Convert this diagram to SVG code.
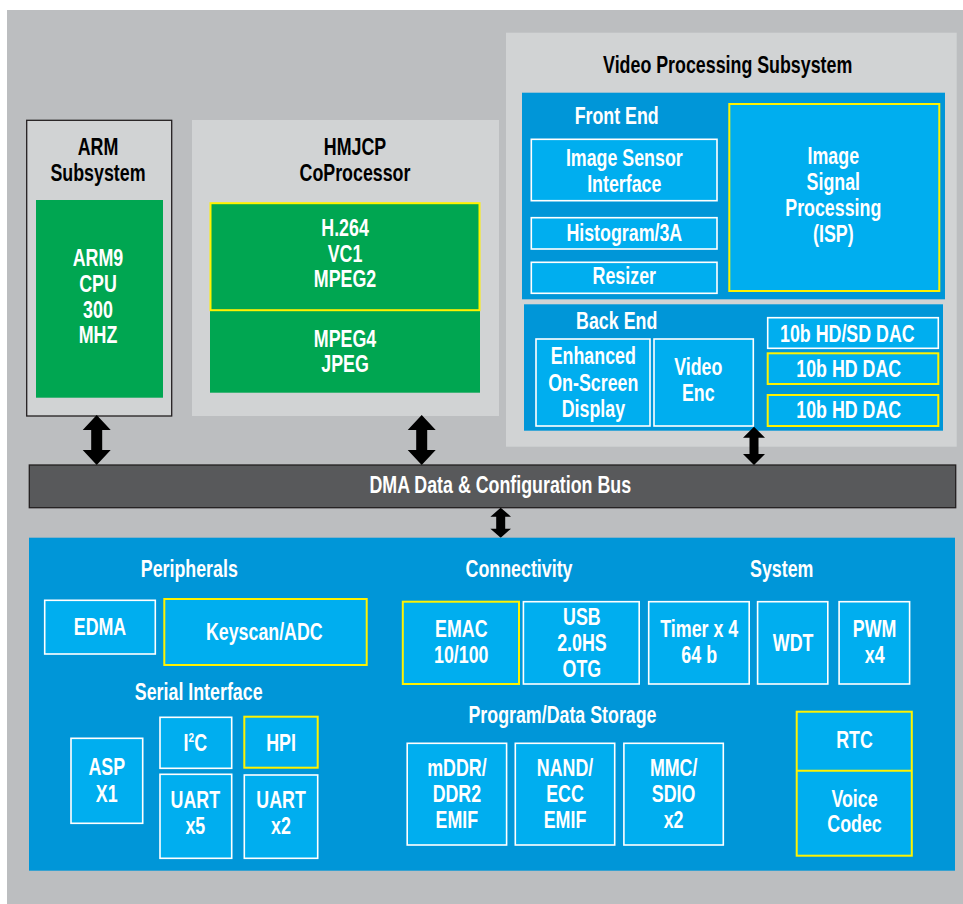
<svg xmlns="http://www.w3.org/2000/svg" width="963" height="904" viewBox="0 0 963 904">
<style>
.t{font-family:"Liberation Sans",Arial,sans-serif;font-weight:bold;font-size:23px;text-anchor:middle;transform:scaleX(0.775);transform-box:fill-box;transform-origin:center}
.w{fill:#fff}.k{fill:#000}
.lg{fill:#D1D3D4}
.grn{fill:#00A651}
.pan{fill:#0096D8}
.box{fill:#00AEEF;stroke:#fff;stroke-width:1.6}
.ybox{fill:#00AEEF;stroke:#FFF200;stroke-width:2}
.arr{fill:#000}
</style>
<rect x="0" y="0" width="963" height="904" fill="#fff"/>
<rect x="7" y="10" width="956" height="894" fill="#BCBEC0"/>

<g id="arm">
<rect x="26.7" y="120.3" width="145" height="295.7" class="lg" stroke="#231F20" stroke-width="1.3"/>
<text class="t k" x="98" y="155">ARM</text>
<text class="t k" x="98" y="181.5">Subsystem</text>
<rect id="arm9" x="36" y="200" width="127" height="197.7" class="grn"/>
<text class="t w" x="98" y="265.7">ARM9</text>
<text class="t w" x="98" y="291.7">CPU</text>
<text class="t w" x="98" y="317.7">300</text>
<text class="t w" x="98" y="343.5">MHZ</text>
</g>

<g id="hmjcp">
<rect x="192" y="120" width="307" height="296" class="lg"/>
<text class="t k" x="355" y="155">HMJCP</text>
<text class="t k" x="355" y="181.5">CoProcessor</text>
<rect x="210" y="310.7" width="270" height="82" class="grn"/>
<text class="t w" x="345" y="346.7">MPEG4</text>
<text class="t w" x="345" y="371.7">JPEG</text>
<rect x="210.5" y="203.2" width="269" height="107" class="grn" stroke="#FFF200" stroke-width="2"/>
<text class="t w" x="345" y="235.7">H.264</text>
<text class="t w" x="345" y="261.7">VC1</text>
<text class="t w" x="345" y="287.3">MPEG2</text>
</g>

<g id="vpss">
<rect x="506" y="32.7" width="450.7" height="414" class="lg"/>
<text class="t k" x="727.7" y="73.3">Video Processing Subsystem</text>
<g id="frontend">
<rect x="522" y="92.7" width="423" height="206.6" class="pan"/>
<text class="t w" x="616.7" y="124">Front End</text>
<rect x="531.3" y="139.3" width="185.7" height="61.4" class="box"/>
<text class="t w" x="624.3" y="165.7">Image Sensor</text>
<text class="t w" x="624.3" y="191.7">Interface</text>
<rect x="531.3" y="217.7" width="185.7" height="31.3" class="box"/>
<text class="t w" x="624.3" y="240.7">Histogram/3A</text>
<rect x="531.3" y="262.3" width="185.7" height="31" class="box"/>
<text class="t w" x="624.3" y="284.3">Resizer</text>
<rect x="729.3" y="104" width="210" height="187" class="ybox"/>
<text class="t w" x="833.3" y="164">Image</text>
<text class="t w" x="833.3" y="190">Signal</text>
<text class="t w" x="833.3" y="216">Processing</text>
<text class="t w" x="833.3" y="241.7">(ISP)</text>
</g>
<g id="backend">
<rect x="524" y="304.3" width="419" height="126.4" class="pan"/>
<text class="t w" x="616.7" y="329.3">Back End</text>
<rect x="536" y="339" width="114" height="87" class="box"/>
<text class="t w" x="593.3" y="364.3">Enhanced</text>
<text class="t w" x="593.3" y="390.7">On-Screen</text>
<text class="t w" x="593.3" y="416.7">Display</text>
<rect x="654" y="339" width="99.3" height="87" class="box"/>
<text class="t w" x="698.3" y="375">Video</text>
<text class="t w" x="698.3" y="400.7">Enc</text>
<rect x="767.7" y="317.7" width="170.6" height="30.6" class="box"/>
<text class="t w" x="847.3" y="341.7">10b HD/SD DAC</text>
<rect x="767.7" y="353.3" width="170.6" height="30.7" class="ybox"/>
<text class="t w" x="848.7" y="377.3">10b HD DAC</text>
<rect x="767.7" y="395" width="170.6" height="31" class="ybox"/>
<text class="t w" x="848.7" y="418.3">10b HD DAC</text>
</g>
</g>

<g id="bus">
<rect x="29.3" y="465" width="926.4" height="42.7" fill="#58595B" stroke="#231F20" stroke-width="1.3"/>
<text class="t w" x="500.3" y="492.7">DMA Data &amp; Configuration Bus</text>
</g>

<g id="connectors">
<path class="arr" d="M96.7,415 L110.7,430 L102.2,430 L102.2,450 L110.7,450 L96.7,465 L82.7,450 L91.2,450 L91.2,430 L82.7,430 Z"/>
<path class="arr" d="M421.7,415 L435.7,430 L427.2,430 L427.2,450 L435.7,450 L421.7,465 L407.7,450 L416.2,450 L416.2,430 L407.7,430 Z"/>
<path class="arr" d="M754,426.7 L765,437.7 L758.5,437.7 L758.5,454 L765,454 L754,465 L743,454 L749.5,454 L749.5,437.7 L743,437.7 Z"/>
<path class="arr" d="M500.7,507.7 L511,516.7 L505.2,516.7 L505.2,528.7 L511,528.7 L500.7,537.7 L490.4,528.7 L496.2,528.7 L496.2,516.7 L490.4,516.7 Z"/>
</g>

<g id="lower">
<rect x="29" y="537.7" width="926" height="333" class="pan"/>
<text class="t w" x="189.3" y="576.7">Peripherals</text>
<text class="t w" x="519" y="576.7">Connectivity</text>
<text class="t w" x="781.7" y="576.7">System</text>
<text class="t w" x="198.7" y="700">Serial Interface</text>
<text class="t w" x="562.5" y="723.3">Program/Data Storage</text>

<g id="edma"><rect x="44.7" y="600.3" width="110.6" height="53.7" class="box"/><text class="t w" x="100" y="635">EDMA</text></g>
<g id="keyscan"><rect x="164.3" y="599" width="202.4" height="66" class="ybox"/><text class="t w" x="264.3" y="640">Keyscan/ADC</text></g>
<g id="asp"><rect x="71" y="738.3" width="71.7" height="85" class="box"/><text class="t w" x="106.7" y="775">ASP</text><text class="t w" x="106.7" y="801.7">X1</text></g>
<g id="i2c"><rect x="160" y="717.3" width="71.7" height="51" class="box"/><text class="t w" x="195.3" y="750.7">I<tspan font-size="13" dy="-9">2</tspan><tspan dy="9">C</tspan></text></g>
<g id="uart5"><rect x="160" y="774.3" width="71.7" height="84" class="box"/><text class="t w" x="195.3" y="808.3">UART</text><text class="t w" x="195.3" y="834">x5</text></g>
<g id="hpi"><rect x="244.3" y="716.7" width="73.4" height="51" class="ybox"/><text class="t w" x="281" y="750.7">HPI</text></g>
<g id="uart2"><rect x="244.3" y="775" width="73.4" height="83.3" class="box"/><text class="t w" x="281" y="808.3">UART</text><text class="t w" x="281" y="834">x2</text></g>

<g id="emac"><rect x="402.8" y="601.7" width="116.2" height="82.3" class="ybox"/><text class="t w" x="461.3" y="636.7">EMAC</text><text class="t w" x="461.3" y="662.7">10/100</text></g>
<g id="usb"><rect x="523.4" y="601.7" width="115.8" height="82.3" class="box"/><text class="t w" x="581.9" y="625">USB</text><text class="t w" x="581.9" y="650.7">2.0HS</text><text class="t w" x="581.9" y="676.7">OTG</text></g>
<g id="timer"><rect x="648.7" y="601.7" width="100.5" height="82.3" class="box"/><text class="t w" x="699.2" y="636.7">Timer x 4</text><text class="t w" x="699.2" y="662.7">64 b</text></g>
<g id="wdt"><rect x="757.6" y="601.7" width="70.2" height="82.3" class="box"/><text class="t w" x="793.1" y="651">WDT</text></g>
<g id="pwm"><rect x="839.1" y="601.7" width="70.5" height="82.3" class="box"/><text class="t w" x="874.6" y="636.7">PWM</text><text class="t w" x="874.6" y="662.7">x4</text></g>

<g id="mddr"><rect x="407.2" y="743.3" width="99.4" height="101.7" class="box"/><text class="t w" x="456.9" y="776">mDDR/</text><text class="t w" x="456.9" y="801.7">DDR2</text><text class="t w" x="456.9" y="827.7">EMIF</text></g>
<g id="nand"><rect x="515.3" y="743.3" width="99.4" height="101.7" class="box"/><text class="t w" x="565" y="776">NAND/</text><text class="t w" x="565" y="801.7">ECC</text><text class="t w" x="565" y="827.7">EMIF</text></g>
<g id="mmc"><rect x="623.9" y="743.3" width="99.4" height="101.7" class="box"/><text class="t w" x="673.6" y="776">MMC/</text><text class="t w" x="673.6" y="801.7">SDIO</text><text class="t w" x="673.6" y="827.7">x2</text></g>

<g id="rtc"><rect x="796.7" y="711.7" width="115.1" height="144" class="ybox"/><line x1="796.7" y1="770.7" x2="911.8" y2="770.7" stroke="#FFF200" stroke-width="2"/><text class="t w" x="854.5" y="748.3">RTC</text><text class="t w" x="854.5" y="806.7">Voice</text><text class="t w" x="854.5" y="832.3">Codec</text></g>
</g>
</svg>
